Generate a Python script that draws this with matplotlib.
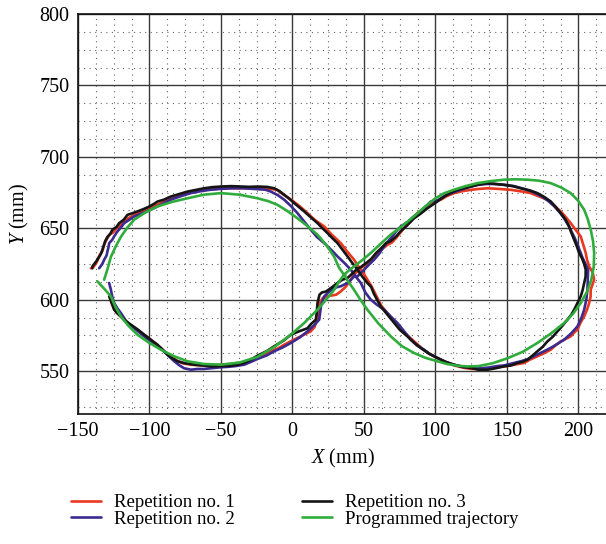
import matplotlib
matplotlib.use("Agg")
import matplotlib.pyplot as plt
from matplotlib.ticker import MultipleLocator

plt.rcParams['font.family'] = ['Liberation Serif', 'DejaVu Serif']
plt.rcParams['mathtext.fontset'] = 'custom'
plt.rcParams['mathtext.it'] = 'Liberation Serif:italic'
plt.rcParams['mathtext.rm'] = 'Liberation Serif'

# ---------------- data ----------------
rep1 = [(-141,622),(-139.5,622.5),(-137,626),(-135,631),(-133,634),(-131.5,639),(-130,642),(-128,645.5),(-125.5,647),(-123,650),(-120,652.5),(-117,655.5),(-114,657.5),(-110,659.5),(-106,661.5),(-101,663.5),(-96,666),(-91,668),(-85,670.5),(-79,672.5),(-73,674.5),(-66,676),(-60,677),(-53,677.5),(-46,678),(-38,678),(-30,678),(-22,678),(-16,677.5),(-11,677),(-7,674),(-3,671.5),(1,668.5),(5,665.5),(10.5,660.6),(16,655.5),(22.2,651.3),(27,646),(33.8,639.6),(38,634),(43.1,628),(47,622),(50,618),(52.4,614),(55,610),(58,604),(62,596),(66,591),(71,585),(76,579),(81,574.5),(86,570),(91,565.5),(96,562),(101.4,559.2),(107,556.5),(113,554),(119,552.5),(125,551.5),(130,551.5),(136.4,551.5),(142,552.5),(148,553.3),(155,554.5),(162,555.7),(166,558),(171.3,560.4),(176,562.5),(180.6,565),(184,568),(187.6,570.8),(191,572.5),(194.6,574.3),(197,577),(199.3,579),(201.5,584),(204,588.3),(206,593),(207.5,597.7),(208.5,602),(208.6,607),(210,611),(211,614),(210,619),(207.5,623.3),(206,628),(205.1,632.7),(203.5,638),(201.6,644.3),(198,649),(194.6,653.6),(191,658),(187.6,661.8),(183,666),(178.3,670),(172,672.5),(166.6,674.6),(160,675.8),(152.7,676.9),(145,677.5),(136.4,678),(130,677.5),(124.7,676.9),(118,675.8),(113,674.6),(108,672.5),(103.7,670),(100,669),(96.7,667.6),(92,664),(87.4,660.6),(84,657.5),(81.8,654.8),(77.1,649),(72.5,643.2),(69.5,640),(66.6,638.5),(62,635),(58.5,630.3),(53.8,625.6),(49.2,623.3),(45.5,620),(42.2,616.3),(39.9,612.8),(37.5,609.3),(34,606),(30.6,603.5),(25,602.5),(21.2,601.2),(17.7,595.3),(17.7,588),(15.5,581),(12.8,577.8),(8,575.5),(3.5,573.2),(-1,571),(-5.8,568.5),(-10,566),(-15.2,563.9),(-20,561.5),(-24.5,559.2),(-30,557),(-36,556),(-43,555),(-50,554.5),(-57,554),(-64,554),(-71,554.5),(-77,555.5),(-81,557.5),(-85,560),(-89,563.5),(-93,567),(-98,571),(-103,575),(-108,578.5),(-113,582),(-117,585),(-120,588),(-123,591),(-125,594),(-126.5,597.5),(-127.5,601)]

rep2 = [(-135.2,622),(-133,625),(-131.7,628),(-130,631),(-129.4,633.8),(-128.6,637),(-128.2,639.6),(-126,642),(-124.7,644.3),(-122.4,647.8),(-120,650.5),(-117.7,653.6),(-114,656),(-110.7,658.3),(-105,660.5),(-99.1,663),(-92,666.5),(-85.1,670),(-78,672.5),(-71.1,674.6),(-64,676),(-57,677),(-50.1,677.6),(-42,678),(-34,678),(-24.5,677.4),(-19,677),(-15.2,675.7),(-10,673),(-5.8,670),(-1,665.5),(3.5,660.6),(8,655),(12.8,649),(17,644),(22.2,639.6),(27,635),(31.5,630.3),(36,626),(40.8,621),(44,616.5),(47.8,611.7),(51,605),(54.8,600),(59,596.5),(64.1,593),(69,588),(73.4,583.7),(78,578),(82.7,572),(87,568),(92.1,565),(96,562),(101.4,559.2),(107,556.5),(113,554.5),(119,553),(125,552.5),(131,552),(137,552.5),(143,553.5),(148,554),(154,555.5),(159.7,556.9),(165,558.5),(170,561),(176,563.9),(181,566.5),(186,569.5),(190,572),(195,576.5),(199.3,581.3),(202,587),(204,593),(205.5,600),(206.3,607),(206.5,614),(206.8,621),(204.5,626),(203,629),(201.6,632.7),(199.5,638),(197.5,643),(195,648),(193,652),(190,657),(187,661),(183,665.5),(179,669),(174,672.5),(168,675.5),(162,677.5),(155,679.5),(148,680.4),(141,681),(136,681),(130,680.5),(124,679),(118,677),(112,675),(107,673),(101.4,669.5),(96.7,668.7),(91,663),(85.1,658.3),(80,654),(76,651.5),(73.4,649),(70,644.5),(67,641),(64.1,637.3),(60.5,632),(57.1,628),(53.5,624.5),(50.1,621),(47.5,618.5),(45.5,616.3),(43.1,616.3),(40.5,613.5),(38.5,611.7),(34,609.5),(29.2,608.2),(25,605),(22.2,602.3),(20,596),(18.7,586),(15,582),(10.5,577.8),(5,573.5),(-1.2,569.7),(-7,566.5),(-12.8,563.9),(-18,561),(-24.5,558.5),(-29,556.5),(-33.8,554.5),(-40,553.5),(-45,553),(-50,552.7),(-57,552),(-62,551.5),(-66.4,551.5),(-71,551),(-75.8,552),(-79,554),(-82.7,556.9),(-87,561),(-92,566.2),(-97,569.5),(-102,573),(-107,577),(-112,581),(-116,584.5),(-120,590.7),(-122.5,594),(-124.7,597.7),(-126,602),(-127,607),(-128.2,611.7)]

rep3 = [(-140,622),(-139.9,623.3),(-136.4,628),(-134,632),(-132.9,635),(-131,641),(-129.4,644),(-127.5,646),(-125.9,649),(-123,651),(-121.2,653.6),(-118,656),(-115.4,659.4),(-112,660.5),(-108.4,661.8),(-104,663.5),(-100.2,665.2),(-97,667),(-94.4,668.7),(-90,670),(-85.1,672.2),(-79,674),(-73.4,675.7),(-67,677),(-61.7,678),(-56,678.8),(-50.1,679.2),(-43,679.5),(-36,679.2),(-30,679),(-24.5,679.2),(-18,679),(-12.8,678),(-9,676),(-5.8,673.4),(-2,670.5),(1.2,667.6),(5,664.5),(8.2,661.8),(13,657.5),(17.5,653.6),(21,650),(24.5,646.6),(28,643),(31.5,639.6),(35,635),(38.5,630.3),(42,625.5),(45.5,621),(49,616),(52.4,611.7),(55,609),(57,604),(61.7,595.3),(66,590),(71.1,583.7),(75,579),(80.4,574.3),(85,570),(89.7,566.2),(95,562.5),(101.4,559.2),(107,556.5),(113,554.5),(119,553),(124.7,552.2),(130,551),(136.4,551),(142,552),(148,553.3),(153,554),(157.3,555.7),(161,556.5),(164.3,558),(168,561),(171.3,563.9),(175,567),(178.3,570.8),(182,574),(185.3,577.8),(189,582),(192.3,586),(195,589.5),(197,593),(199.5,598),(201.6,602.3),(203,607),(204,611.7),(205,616),(205.1,621),(204,625),(202.5,629),(200.5,632.7),(199,637),(197,642),(195,647),(193.5,651.3),(191,656),(187.6,660.6),(184,665),(180.6,668.8),(176,672),(171.3,674.6),(166,676.5),(159.7,678),(154,679.5),(148,680.4),(142,681),(136.4,681.6),(130,680.5),(124.7,679.2),(120,678),(115.4,676.9),(110,674.5),(106.1,672.2),(101.4,668.8),(98,666.5),(94.4,664),(90,660.5),(85.1,657),(79.5,651.3),(75.7,648),(72.5,644.3),(68.7,641),(65.5,639.7),(62,636),(58.5,632.7),(55,628.5),(51.5,625.6),(48,623),(44.6,621),(41,617.5),(38.5,615.2),(35,614),(32.9,612.8),(28,609),(23.6,605.8),(20.5,605),(18.9,603.5),(17.5,597.7),(17,591),(16.3,586),(13,583),(10.5,580),(5,578),(-1.2,575.5),(-6,571.5),(-12.8,567.4),(-18,564),(-24.5,560.8),(-30,557.5),(-33.8,555.7),(-38,554.5),(-43.1,553.8),(-50,553.5),(-57.1,553.3),(-63,554),(-68.7,554.5),(-75,555.5),(-80.4,556.9),(-84,559),(-87.4,561.5),(-91,565),(-94.4,568.5),(-99,572),(-103.7,575.5),(-108,579),(-113,582.5),(-117,585.5),(-120,588.3),(-122.5,590.5),(-124.7,593),(-126.5,598),(-128.2,602.3)]

programmed = [(-131.7,614),(-129.5,621),(-127,630),(-123.5,637.5),(-120,644),(-115.5,650.5),(-110.7,656),(-103,661),(-94.4,665.3),(-84,668.5),(-73.4,671),(-62,673.5),(-50,674.6),(-37,673.5),(-24.5,671),(-17,669),(-10.5,666.4),(-3.5,662),(3.5,657),(10.5,651.5),(17.5,645.5),(23.5,638.5),(29.2,630),(32.5,622.5),(36,617.5),(39.5,612),(43,607),(47.5,600),(52.4,593),(60,583.5),(68.8,574.3),(76.5,567.5),(85,562.7),(93,559.3),(101.4,556.9),(108,555),(115.4,553.8),(122,553.3),(130,553.5),(140,555.5),(150.3,559),(161,563.5),(171.3,569.7),(181,576.5),(190,583.7),(196.5,590.5),(201.6,597.7),(206,605.5),(209,614),(210.7,623),(211,632.7),(210.2,641),(208.6,649),(206.5,656.5),(204,663),(199.8,669.3),(194.6,674.6),(188,678.5),(180.6,681.6),(172.5,683.3),(164.3,684),(156,684.3),(148,684),(138.5,683),(129.4,681.6),(121,679.5),(113,677),(106,674.5),(100,671),(92.5,665),(85,658.3),(77,651.8),(68.7,645.5),(61.5,639),(54.8,632.7),(48.5,627.5),(43.1,623.3),(39.5,620.5),(36,617.5),(32.5,612.5),(29.2,607),(23.5,600),(17.5,593),(8,583.5),(-1.2,575.5),(-12.5,567),(-24.5,560),(-37,556),(-50,554.5),(-62,555),(-73.4,556.9),(-83,560.5),(-92,565),(-100.5,570),(-108.4,575.5),(-114.5,581.5),(-120,588.3),(-123.8,595),(-127,602.3),(-131.5,607.5),(-136.4,612.8)]

labels = ["Repetition no. 1", "Repetition no. 2", "Repetition no. 3", "Programmed trajectory"]
colors = ["#e8381f", "#3b2a8f", "#151515", "#2fac3c"]
x_ticks = [-150, -100, -50, 0, 50, 100, 150, 200]
y_ticks = [550, 600, 650, 700, 750, 800]

# ---------------- plot ----------------
fig = plt.figure(figsize=(6.06, 5.44), dpi=100)
ax = fig.add_axes([0.1287, 0.239, 0.873, 0.7353])

series = [rep1, rep2, rep3, programmed]
handles = []
for pts, lab, col in zip(series, labels, colors):
    xs = [p[0] for p in pts]
    ys = [p[1] for p in pts]
    ln, = ax.plot(xs, ys, color=col, lw=1.9, label=lab,
                  solid_joinstyle='round', solid_capstyle='round')
    handles.append(ln)

ax.set_xlim(-150, 220)
ax.set_ylim(520, 800)
ax.set_xticks(x_ticks)
ax.set_yticks(y_ticks)
ax.xaxis.set_minor_locator(MultipleLocator(12.5))
ax.yaxis.set_minor_locator(MultipleLocator(12.5))
ax.set_axisbelow(True)
ax.grid(which='major', color='#3a3a3a', lw=1.0)
ax.grid(which='minor', color='#666666', lw=0.8, linestyle=(0, (1, 4)))
ax.tick_params(which='both', length=0, labelsize=14.5, pad=6)
for s in ['left', 'bottom', 'top']:
    ax.spines[s].set_linewidth(1.2)
    ax.spines[s].set_color('#111111')
ax.spines['right'].set_visible(False)

ax.set_xlabel(r'$X$ (mm)', fontsize=14.5, labelpad=4)
ax.set_ylabel(r'$Y$ (mm)', fontsize=14.5, labelpad=6)

fig.legend(handles, labels, ncol=2, loc='center', bbox_to_anchor=(0.486, 0.0607),
           frameon=False, fontsize=13.5, handlelength=1.6, handletextpad=0.7,
           columnspacing=3.6, labelspacing=-0.05)

fig.savefig("out.png", dpi=100)
